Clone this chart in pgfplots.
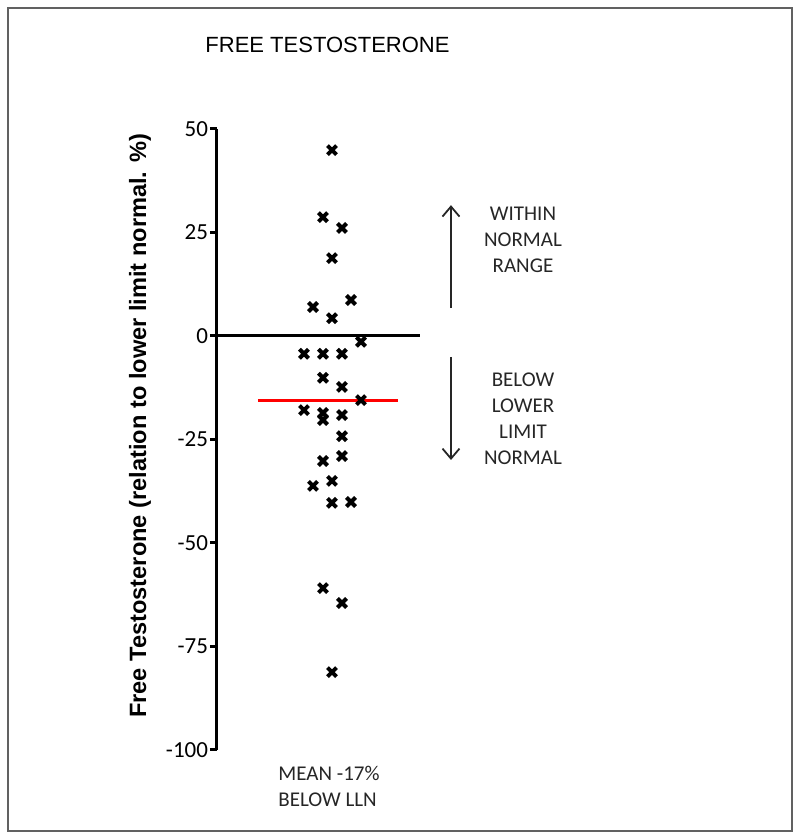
\documentclass[border=0pt]{standalone}
\usepackage{pgfplots}
\pgfplotsset{compat=1.18}
\usepackage{fontspec}
\setmainfont{Carlito}
\newfontfamily\arial{Liberation Sans}
\usetikzlibrary{arrows.meta}
\pgfplotstableread{
x y
87 -4.3
87 -17.9
96 7.0
96 -36.2
106 28.7
106 -4.3
106 -10.1
106 -18.6
106 -20.3
106 -30.2
106 -60.9
115 44.9
115 18.8
115 4.3
115 -35.0
115 -40.3
115 -81.2
125 26.1
125 -4.3
125 -12.3
125 -19.1
125 -24.2
125 -29.0
125 -64.5
134 8.7
134 -40.1
144 -1.4
144 -15.5
}\pts
\begin{document}
\begin{tikzpicture}
\begin{axis}[
  x=0.5pt, y=2.07pt,
  xmin=0, xmax=203, ymin=-100, ymax=50,
  clip=false,
  hide x axis,
  axis y line*=left,
  y axis line style={line width=1.5pt, black},
  ytick={-100,-75,-50,-25,0,25,50},
  tick align=outside,
  major tick length=3.5pt,
  ytick style={line width=1.5pt, black},
  yticklabel style={font=\fontsize{11.5}{13}\selectfont, inner sep=0.8pt, text=black},
  /pgf/number format/assume math mode=true,
]
% invisible page extent and frame
\path (axis cs:-217,81.16) rectangle (axis cs:583,-121.5);
\draw[color=black!62, line width=1pt] (axis cs:-209,79.23) rectangle (axis cs:575,-119.57);
% reference lines
\addplot[black, line width=1.5pt, forget plot] coordinates {(0,0) (203,0)};
\addplot[red, line width=1.5pt, forget plot] coordinates {(41,-15.5) (181,-15.5)};
% data
\addplot[only marks, mark=x, mark size=3.2pt, mark options={line width=2pt, black}] table[x=x,y=y] {\pts};
% arrows
\draw[black!85, line width=0.9pt, -{Straight Barb[length=5pt,width=8.5pt]}] (axis cs:234,6.76) -- (axis cs:234,31.6);
\draw[black!85, line width=0.9pt, -{Straight Barb[length=5pt,width=8.5pt]}] (axis cs:234,-5.07) -- (axis cs:234,-29.95);
% texts
\node[align=center, font=\fontsize{10.5}{13}\selectfont, text=black!85] at (axis cs:306,23.19) {WITHIN\\NORMAL\\RANGE};
\node[align=center, font=\fontsize{10.5}{13}\selectfont, text=black!85] at (axis cs:306,-19.93) {BELOW\\LOWER\\LIMIT\\NORMAL};
\node[align=left, anchor=west, inner sep=0pt, font=\fontsize{10.5}{13}\selectfont, text=black!85] at (axis cs:61,-108.7) {MEAN -17\%\\BELOW LLN};
\node[font=\arial\fontsize{11}{12}\selectfont] at (axis cs:110.5,70.3) {FREE TESTOSTERONE};
\node[rotate=90, font=\arial\bfseries\fontsize{11.8}{13}\selectfont] at (axis cs:-77,-21.7) {Free Testosterone (relation to lower limit normal. \%)};
\end{axis}
\end{tikzpicture}
\end{document}
